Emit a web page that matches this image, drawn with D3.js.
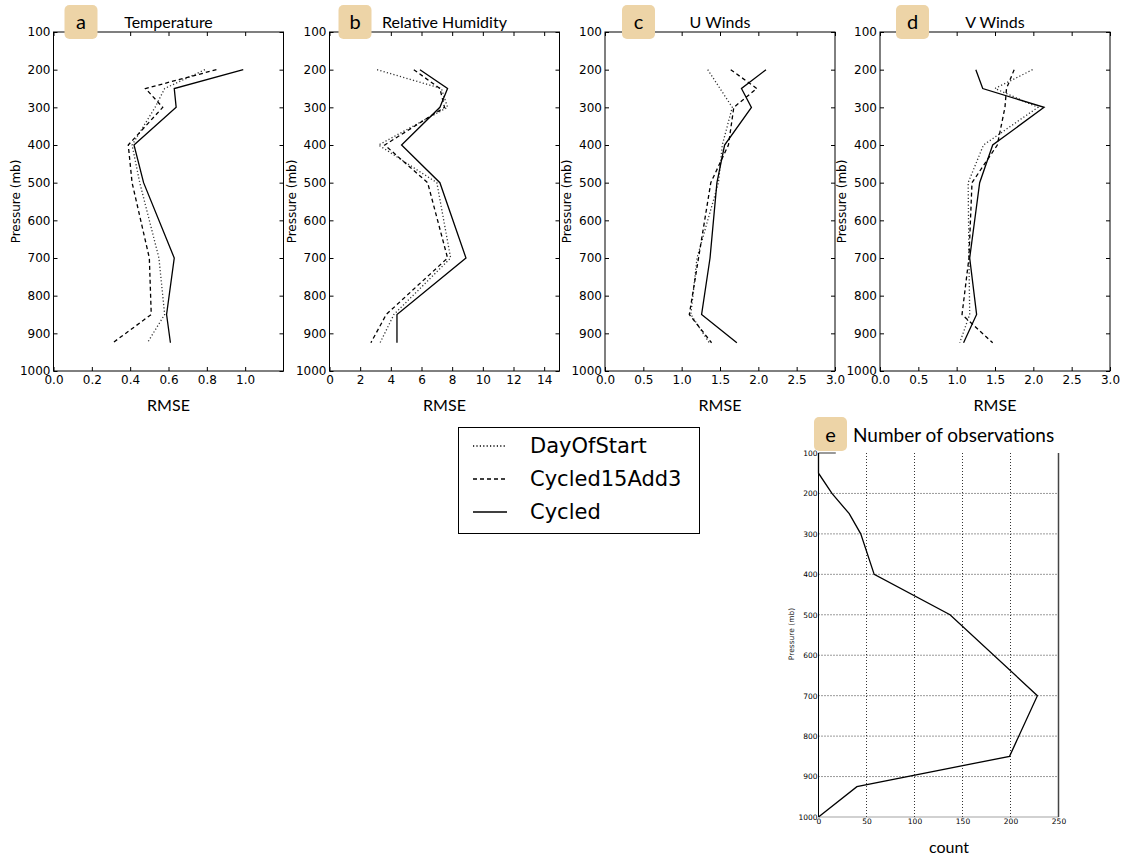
<!DOCTYPE html>
<html>
<head>
<meta charset="utf-8">
<script src="https://cdn.jsdelivr.net/npm/d3@7"></script>
<style>
  html, body { margin: 0; padding: 0; background: #fff; }
  svg { display: block; }
  .tick text { font-family: "DejaVu Sans", sans-serif; fill: #000; }
</style>
</head>
<body>
<svg id="chart" width="1127" height="858"></svg>
<script>
// Pressure levels (mb) at which RMSE is reported
const levels = [200, 250, 300, 400, 500, 700, 850, 925];

// Temperature RMSE
const tempDayOfStart   = [0.79, 0.58, 0.53, 0.41, 0.45, 0.55, 0.58, 0.49];
const tempCycled15Add3 = [0.85, 0.48, 0.57, 0.39, 0.41, 0.50, 0.51, 0.31];
const tempCycled       = [0.99, 0.63, 0.64, 0.42, 0.47, 0.63, 0.59, 0.61];

// Relative humidity RMSE
const rhDayOfStart   = [3.1, 7.3, 7.7, 3.2, 7.0, 7.9, 4.2, 3.3];
const rhCycled15Add3 = [5.5, 7.2, 7.5, 3.6, 6.4, 7.7, 3.7, 2.7];
const rhCycled       = [5.9, 7.7, 7.2, 4.7, 7.2, 8.9, 4.4, 4.4];

// U wind RMSE
const uDayOfStart   = [1.34, 1.50, 1.66, 1.53, 1.48, 1.20, 1.12, 1.36];
const uCycled15Add3 = [1.64, 1.98, 1.68, 1.61, 1.38, 1.22, 1.10, 1.39];
const uCycled       = [2.10, 1.78, 1.91, 1.56, 1.46, 1.37, 1.26, 1.72];

// V wind RMSE
const vDayOfStart   = [1.99, 1.50, 2.06, 1.35, 1.15, 1.16, 1.17, 1.04];
const vCycled15Add3 = [1.75, 1.65, 1.63, 1.53, 1.20, 1.16, 1.07, 1.47];
const vCycled       = [1.25, 1.34, 2.14, 1.47, 1.30, 1.17, 1.26, 1.09];

// Observation counts per pressure level
const obsLevels = [100, 150, 200, 250, 300, 400, 500, 700, 850, 925, 1000];
const obsCounts = [0, 0, 14, 32, 44, 58, 137, 228, 199, 40, 0];

// Axis tick values
const pressureTicks = [100, 200, 300, 400, 500, 600, 700, 800, 900, 1000];
const tempTicks = [0.0, 0.2, 0.4, 0.6, 0.8, 1.0];
const rhTicks = [0, 2, 4, 6, 8, 10, 12, 14];
const windTicks = [0.0, 0.5, 1.0, 1.5, 2.0, 2.5, 3.0];
const countTicks = [0, 50, 100, 150, 200, 250];

// Series names and their line styles
const seriesNames = ["DayOfStart", "Cycled15Add3", "Cycled"];
const seriesDash = { "DayOfStart": "1.2,2.2", "Cycled15Add3": "4,3", "Cycled": null };

const svg = d3.select("#chart");
const badgeColor = "#edd4a7";
const titleFont = "Lato, 'Open Sans', sans-serif";

const panels = [
  { letter: "a", title: "Temperature", left: 53.5, domain: [0, 1.2], ticks: tempTicks, fmt: d3.format(".1f"),
    series: [tempDayOfStart, tempCycled15Add3, tempCycled] },
  { letter: "b", title: "Relative Humidity", left: 329.5, domain: [0, 15], ticks: rhTicks, fmt: d3.format("d"),
    series: [rhDayOfStart, rhCycled15Add3, rhCycled] },
  { letter: "c", title: "U Winds", left: 605, domain: [0, 3], ticks: windTicks, fmt: d3.format(".1f"),
    series: [uDayOfStart, uCycled15Add3, uCycled] },
  { letter: "d", title: "V Winds", left: 880, domain: [0, 3], ticks: windTicks, fmt: d3.format(".1f"),
    series: [vDayOfStart, vCycled15Add3, vCycled] }
];

const pTop = 32, pBottom = 371, pWidth = 230;
const y = d3.scaleLinear().domain([100, 1000]).range([pTop, pBottom]);

panels.forEach(p => {
  const x = d3.scaleLinear().domain(p.domain).range([p.left, p.left + pWidth]);
  const g = svg.append("g");

  // inward ticks on all four sides
  const axL = g.append("g").attr("transform", `translate(${p.left},0)`)
    .call(d3.axisLeft(y).tickValues(pressureTicks).tickSize(-4).tickPadding(3).tickFormat(d3.format("d")));
  const axR = g.append("g").attr("transform", `translate(${p.left + pWidth},0)`)
    .call(d3.axisRight(y).tickValues(pressureTicks).tickSize(-4).tickFormat(""));
  const axB = g.append("g").attr("transform", `translate(0,${pBottom})`)
    .call(d3.axisBottom(x).tickValues(p.ticks).tickSize(-4).tickPadding(4).tickFormat(p.fmt));
  const axT = g.append("g").attr("transform", `translate(0,${pTop})`)
    .call(d3.axisTop(x).tickValues(p.ticks).tickSize(-4).tickFormat(""));
  [axL, axR, axB, axT].forEach(a => {
    a.select(".domain").remove();
    a.selectAll("line").attr("stroke", "#000");
    a.selectAll("text").style("font-size", "12px").attr("fill", "#000");
  });

  // frame
  g.append("rect").attr("x", p.left).attr("y", pTop).attr("width", pWidth).attr("height", pBottom - pTop)
    .attr("fill", "none").attr("stroke", "#000").attr("stroke-width", 1);

  // profiles
  const line = d3.line().x(d => x(d[0])).y(d => y(d[1]));
  p.series.forEach((vals, i) => {
    const name = seriesNames[i];
    g.append("path")
      .datum(vals.map((v, k) => [v, levels[k]]))
      .attr("d", line)
      .attr("fill", "none")
      .attr("stroke", name === "DayOfStart" ? "#333" : "#000")
      .attr("stroke-width", 1.3)
      .attr("stroke-dasharray", seriesDash[name]);
  });

  // axis labels
  g.append("text").attr("transform", `translate(${p.left - 38},${(pTop + pBottom) / 2}) rotate(-90)`)
    .attr("text-anchor", "middle").attr("dominant-baseline", "central")
    .style("font-family", "'DejaVu Sans', sans-serif").style("font-size", "12px").text("Pressure (mb)");
  g.append("text").attr("x", p.left + pWidth / 2).attr("y", 411)
    .attr("text-anchor", "middle").style("font-family", titleFont).style("font-size", "16px").text("RMSE");

  // title and letter badge
  g.append("text").attr("x", p.left + pWidth / 2).attr("y", 28)
    .attr("text-anchor", "middle").style("font-family", titleFont).style("font-size", "16px").text(p.title);
  const bx = p.left + (p.letter === "a" ? 11 : p.letter === "b" ? 9 : p.letter === "c" ? 17 : 16);
  g.append("rect").attr("x", bx).attr("y", 5).attr("width", 33).attr("height", 34).attr("rx", 5)
    .attr("fill", badgeColor);
  g.append("text").attr("x", bx + 16.5).attr("y", 29).attr("text-anchor", "middle")
    .style("font-family", titleFont).style("font-size", "20px").text(p.letter);
});

// Legend
const legend = svg.append("g");
legend.append("rect").attr("x", 458.5).attr("y", 427.5).attr("width", 241).attr("height", 106)
  .attr("fill", "#fff").attr("stroke", "#000").attr("stroke-width", 1);
seriesNames.forEach((name, i) => {
  const cy = 446 + i * 33;
  legend.append("line").attr("x1", 473).attr("x2", 507).attr("y1", cy).attr("y2", cy)
    .attr("stroke", "#000").attr("stroke-width", 1.3).attr("stroke-dasharray", seriesDash[name]);
  legend.append("text").attr("x", 530).attr("y", cy).attr("dominant-baseline", "central")
    .style("font-family", "'DejaVu Sans', sans-serif").style("font-size", "21px").text(name);
});

// Panel e: number of observations
const eLeft = 818.5, eRight = 1058.5, eTop = 453, eBottom = 817;
const xe = d3.scaleLinear().domain([0, 250]).range([eLeft, eRight]);
const ye = d3.scaleLinear().domain([100, 1000]).range([eTop, eBottom]);
const ge = svg.append("g");

// dotted grid
ge.append("g").selectAll("line").data(countTicks.slice(1, -1)).join("line")
  .attr("x1", d => xe(d)).attr("x2", d => xe(d)).attr("y1", eTop).attr("y2", eBottom)
  .attr("stroke", "#000").attr("stroke-width", 0.8).attr("stroke-dasharray", "1,2");
ge.append("g").selectAll("line").data(pressureTicks.slice(1, -1)).join("line")
  .attr("x1", eLeft).attr("x2", eRight).attr("y1", d => ye(d)).attr("y2", d => ye(d))
  .attr("stroke", "#000").attr("stroke-width", 0.8).attr("stroke-dasharray", "1,2");

const axEL = ge.append("g").attr("transform", `translate(${eLeft},0)`)
  .call(d3.axisLeft(ye).tickValues(pressureTicks).tickSize(0).tickPadding(1).tickFormat(d3.format("d")));
const axEB = ge.append("g").attr("transform", `translate(0,${eBottom})`)
  .call(d3.axisBottom(xe).tickValues(countTicks).tickSize(0).tickPadding(2).tickFormat(d3.format("d")));
[axEL, axEB].forEach(a => {
  a.select(".domain").remove();
  a.selectAll("text").style("font-size", "7.5px").attr("fill", "#222");
});

// spines
ge.append("line").attr("x1", eLeft).attr("x2", eLeft).attr("y1", eTop).attr("y2", eBottom)
  .attr("stroke", "#000").attr("stroke-width", 1);
ge.append("line").attr("x1", eRight).attr("x2", eRight).attr("y1", eTop).attr("y2", eBottom)
  .attr("stroke", "#444").attr("stroke-width", 1.5);
ge.append("line").attr("x1", eLeft).attr("x2", eRight).attr("y1", eBottom).attr("y2", eBottom)
  .attr("stroke", "#666").attr("stroke-width", 0.6);
ge.append("line").attr("x1", eLeft).attr("x2", xe(18)).attr("y1", eTop).attr("y2", eTop)
  .attr("stroke", "#555").attr("stroke-width", 1.2);

ge.append("path")
  .datum(obsCounts.map((c, k) => [c, obsLevels[k]]))
  .attr("d", d3.line().x(d => xe(d[0])).y(d => ye(d[1])))
  .attr("fill", "none").attr("stroke", "#000").attr("stroke-width", 1.3);

ge.append("text").attr("transform", `translate(791,634) rotate(-90)`)
  .attr("text-anchor", "middle").attr("dominant-baseline", "central")
  .style("font-family", "'DejaVu Sans', sans-serif").style("font-size", "7.5px").attr("fill", "#222")
  .text("Pressure (mb)");
ge.append("text").attr("x", 949).attr("y", 853).attr("text-anchor", "middle")
  .style("font-family", titleFont).style("font-size", "16px").text("count");

ge.append("rect").attr("x", 814).attr("y", 417).attr("width", 33).attr("height", 34).attr("rx", 5)
  .attr("fill", badgeColor);
ge.append("text").attr("x", 830.5).attr("y", 442).attr("text-anchor", "middle")
  .style("font-family", titleFont).style("font-size", "20px").text("e");
ge.append("text").attr("x", 853).attr("y", 442)
  .style("font-family", titleFont).style("font-size", "19px").text("Number of observations");
</script>
</body>
</html>
